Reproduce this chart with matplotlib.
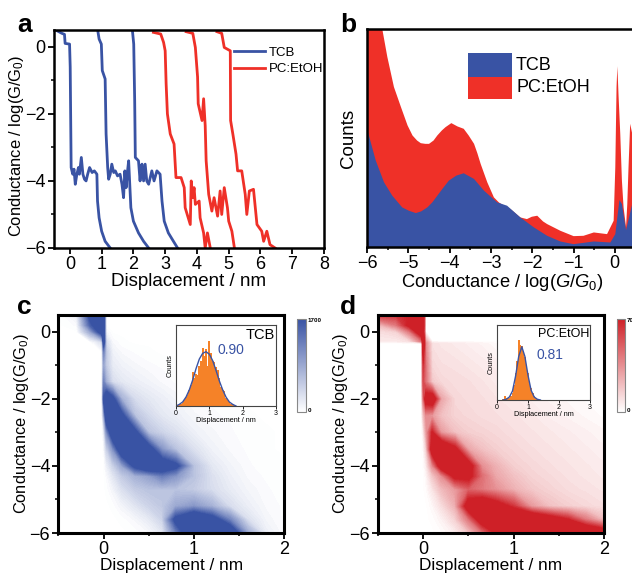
import numpy as np
import matplotlib
matplotlib.use("Agg")
import matplotlib.pyplot as plt
from matplotlib.colors import LinearSegmentedColormap, Normalize
from matplotlib.cm import ScalarMappable
from matplotlib.patches import Rectangle

plt.rcParams["font.family"] = "Liberation Sans"
plt.rcParams["mathtext.fontset"] = "custom"
plt.rcParams["mathtext.rm"] = "Liberation Sans"
plt.rcParams["mathtext.it"] = "Liberation Sans:italic"

BLUE = "#3953A4"
RED = "#EF3028"
DARK_RED = "#CE2027"
ORANGE = "#F58228"

# panel a, single traces
t1_x = [-0.39, -0.25, -0.17, -0.15, -0.01, 0.01, 0.03, 0.04, 0.09, 0.13, 0.17, 0.22, 0.27, 0.30, 0.36, 0.41, 0.46, 0.51, 0.56, 0.62, 0.70, 0.77, 0.85, 0.87, 0.92, 1.00, 1.11, 1.27]
t1_y = [0.47, 0.40, 0.37, 0.10, 0.08, -0.6, -2.6, -3.6, -3.8, -3.65, -4.1, -3.8, -3.6, -3.8, -3.3, -3.8, -3.95, -4.0, -3.8, -3.6, -3.75, -3.7, -3.8, -4.6, -5.1, -5.5, -5.8, -6.0]
t2_x = [0.88, 0.92, 0.99, 1.02, 1.11, 1.14, 1.19, 1.22, 1.27, 1.32, 1.38, 1.43, 1.50, 1.58, 1.64, 1.69, 1.73, 1.77, 1.81, 1.85, 1.88, 1.92, 2.00, 2.16, 2.32, 2.48]
t2_y = [0.47, 0.23, 0.08, -0.71, -0.96, -2.6, -3.6, -3.95, -3.8, -3.5, -3.75, -3.7, -3.85, -3.8, -4.1, -4.5, -3.7, -4.2, -3.75, -3.4, -4.0, -4.8, -5.2, -5.55, -5.8, -6.0]
t3_x = [1.97, 2.01, 2.04, 2.06, 2.16, 2.21, 2.24, 2.27, 2.32, 2.37, 2.42, 2.48, 2.58, 2.65, 2.74, 2.84, 2.90, 2.97, 3.10, 3.26, 3.39]
t3_y = [0.47, 0.08, -1.6, -3.3, -3.4, -4.0, -3.6, -3.5, -4.0, -3.5, -4.0, -4.1, -3.7, -4.0, -3.7, -3.8, -4.6, -5.2, -5.55, -5.8, -6.0]
t4_x = [2.63, 2.86, 2.95, 3.00, 3.03, 3.07, 3.16, 3.28, 3.34, 3.50, 3.60, 3.63, 3.79, 3.82, 3.87, 3.91, 3.95, 4.07, 4.10, 4.21, 4.26, 4.33, 4.42]
t4_y = [0.43, 0.38, 0.13, -0.12, -1.1, -2.0, -2.6, -2.9, -3.9, -3.9, -4.2, -4.8, -5.3, -4.0, -4.5, -4.2, -4.7, -4.6, -5.1, -5.55, -6.0, -5.55, -6.0]
t5_x = [3.66, 3.87, 3.95, 4.02, 4.04, 4.16, 4.21, 4.26, 4.29, 4.37, 4.47, 4.54, 4.65, 4.73, 4.78, 4.86, 4.96, 5.00, 5.10, 5.18]
t5_y = [0.45, 0.40, -0.02, -0.9, -1.7, -2.2, -1.55, -2.35, -3.4, -4.4, -4.9, -4.5, -5.05, -4.3, -5.0, -4.2, -4.8, -5.2, -5.5, -6.0]
t6_x = [4.63, 4.78, 4.86, 5.05, 5.06, 5.13, 5.23, 5.28, 5.41, 5.52, 5.57, 5.65, 5.78, 5.89, 6.04, 6.10, 6.20, 6.30, 6.46]
t6_y = [0.45, 0.40, -0.02, -0.12, -2.2, -2.6, -3.2, -3.7, -3.7, -4.4, -5.0, -4.3, -4.25, -5.3, -5.5, -5.8, -5.5, -5.9, -6.0]

# panel b, histograms
pc_g = [-6, -5.84, -5.64, -5.52, -5.36, -5.19, -5.03, -4.91, -4.80, -4.71, -4.60, -4.51, -4.40, -4.31, -4.20, -4.11, -3.97, -3.82, -3.67, -3.55, -3.42, -3.34, -3.26, -3.10, -2.94, -2.82, -2.70, -2.54, -2.30, -2.14, -2.02, -1.89, -1.75, -1.65, -1.33, -1.01, -0.77, -0.52, -0.20, -0.04, 0.0, 0.03, 0.05, 0.08, 0.12, 0.16, 0.20, 0.26, 0.29, 0.32, 0.36, 0.41, 0.60]
pc_counts = [800, 720, 652, 570, 480, 420, 365, 335, 320, 312, 310, 310, 320, 335, 350, 360, 372, 362, 355, 335, 310, 282, 250, 195, 150, 135, 125, 115, 90, 85, 92, 95, 78, 70, 50, 34, 35, 45, 40, 80, 240, 480, 542, 450, 340, 200, 120, 60, 130, 240, 370, 340, 300]
tcb_g = [-6, -5.80, -5.60, -5.40, -5.16, -5.00, -4.83, -4.70, -4.55, -4.43, -4.31, -4.17, -4.03, -3.85, -3.67, -3.42, -3.18, -2.86, -2.62, -2.30, -1.97, -1.65, -1.33, -1.01, -0.52, -0.12, 0.0, 0.10, 0.16, 0.26, 0.41, 0.60]
tcb_counts = [350, 260, 195, 155, 120, 110, 103, 108, 120, 135, 155, 178, 200, 215, 222, 205, 170, 135, 125, 90, 60, 35, 18, 10, 18, 15, 40, 142, 130, 52, 130, 120]

# panels c and d, 2D histograms, percent of colour bar maximum
map_x = [-0.5, -0.3, -0.15, -0.02, 0.0, 0.03, 0.1, 0.2, 0.35, 0.5, 0.65, 0.8, 1.0, 1.2, 1.4, 1.6, 1.8, 2.0]
tcb_y = [0.5, 0.2, 0, -0.3, -0.6, -1, -1.5, -2, -2.5, -3, -3.5, -4, -4.3, -4.7, -5.2, -5.6, -6]
tcb_map = [
    [0, 10, 110, 130, 130, 0, 0, 0, 0, 0, 0, 0, 0, 0, 0, 0, 0, 0],
    [0, 3, 90, 130, 130, 0, 0, 0, 0, 0, 0, 0, 0, 0, 0, 0, 0, 0],
    [0, 0, 50, 120, 120, 5, 0, 0, 0, 0, 0, 0, 0, 0, 0, 0, 0, 0],
    [0, 0, 0, 20, 120, 20, 4, 1, 0, 0, 0, 0, 0, 0, 0, 0, 0, 0],
    [0, 0, 0, 0, 70, 30, 8, 4, 2, 1, 0, 0, 0, 0, 0, 0, 0, 0],
    [0, 0, 0, 0, 50, 30, 12, 8, 5, 3, 2, 1, 0, 0, 0, 0, 0, 0],
    [0, 0, 0, 0, 70, 45, 20, 14, 10, 7, 4, 2, 1, 0, 0, 0, 0, 0],
    [0, 0, 0, 0, 100, 140, 110, 45, 20, 14, 10, 6, 3, 2, 1, 0, 0, 0],
    [0, 0, 0, 0, 40, 130, 150, 110, 35, 22, 14, 10, 5, 3, 2, 1, 0, 0],
    [0, 0, 0, 0, 8, 60, 130, 150, 110, 35, 25, 18, 9, 5, 3, 1, 1, 0],
    [0, 0, 0, 0, 2, 25, 60, 130, 150, 120, 60, 35, 18, 8, 4, 2, 1, 0],
    [0, 0, 0, 0, 0, 8, 25, 50, 110, 140, 130, 110, 35, 14, 7, 3, 1, 1],
    [0, 0, 0, 0, 0, 3, 14, 30, 45, 55, 75, 60, 35, 18, 9, 4, 2, 1],
    [0, 0, 0, 0, 0, 1, 6, 18, 30, 35, 35, 35, 30, 20, 12, 6, 3, 1],
    [0, 0, 0, 0, 0, 0, 1, 6, 15, 25, 32, 50, 60, 45, 20, 10, 4, 2],
    [0, 0, 0, 0, 0, 0, 0, 1, 5, 12, 25, 110, 150, 120, 70, 18, 6, 2],
    [0, 0, 0, 0, 0, 0, 0, 0, 1, 4, 14, 70, 140, 150, 140, 50, 10, 3],
]
pc_y = [0.5, 0.2, 0, -0.28, -0.35, -1, -1.5, -2, -2.5, -3, -3.5, -4, -4.3, -4.7, -5.2, -5.6, -6]
pc_map = [
    [90, 90, 100, 130, 130, 0, 0, 0, 0, 0, 0, 0, 0, 0, 0, 0, 0, 0],
    [30, 60, 110, 130, 130, 0, 0, 0, 0, 0, 0, 0, 0, 0, 0, 0, 0, 0],
    [15, 20, 60, 130, 120, 0, 0, 0, 0, 0, 0, 0, 0, 0, 0, 0, 0, 0],
    [10, 10, 15, 60, 130, 40, 0, 0, 0, 0, 0, 0, 0, 0, 0, 0, 0, 0],
    [0, 0, 0, 0, 130, 50, 14, 12, 10, 8, 6, 3, 2, 1, 0, 0, 0, 0],
    [0, 0, 0, 0, 90, 60, 18, 15, 14, 12, 10, 8, 5, 3, 1, 0, 0, 0],
    [0, 0, 0, 0, 80, 60, 25, 18, 16, 15, 13, 10, 8, 6, 4, 2, 1, 0],
    [0, 0, 0, 0, 60, 120, 130, 40, 18, 16, 15, 13, 11, 8, 6, 4, 2, 1],
    [0, 0, 0, 0, 25, 50, 45, 28, 20, 18, 16, 15, 13, 11, 8, 6, 4, 2],
    [0, 0, 0, 0, 8, 40, 100, 45, 28, 22, 20, 18, 15, 13, 11, 9, 7, 5],
    [0, 0, 0, 0, 3, 20, 120, 150, 110, 40, 28, 22, 18, 15, 13, 11, 9, 7],
    [0, 0, 0, 0, 1, 8, 50, 120, 150, 120, 50, 35, 22, 18, 15, 13, 11, 9],
    [0, 0, 0, 0, 0, 4, 25, 50, 110, 110, 65, 40, 28, 20, 17, 14, 12, 10],
    [0, 0, 0, 0, 0, 2, 12, 30, 45, 70, 60, 50, 35, 25, 20, 16, 14, 12],
    [0, 0, 0, 0, 0, 0, 4, 15, 35, 120, 140, 120, 90, 45, 28, 22, 18, 15],
    [0, 0, 0, 0, 0, 0, 1, 6, 20, 60, 120, 150, 150, 150, 125, 100, 60, 30],
    [0, 0, 0, 0, 0, 0, 0, 2, 8, 25, 60, 100, 150, 150, 150, 150, 150, 130],
]

# insets, displacement histograms and fits
tcb_bin = [0.10, 0.15, 0.20, 0.25, 0.30, 0.35, 0.40, 0.45, 0.50, 0.55, 0.60, 0.65, 0.70, 0.75, 0.80, 0.85, 0.90, 0.95, 1.00, 1.05, 1.10, 1.15, 1.20, 1.25, 1.30, 1.35, 1.40, 1.45, 1.50, 1.55, 1.60, 1.65, 1.70]
tcb_hist = [0.01, 0.02, 0.04, 0.08, 0.11, 0.14, 0.20, 0.26, 0.42, 0.34, 0.40, 0.38, 0.50, 0.56, 0.72, 0.62, 0.70, 0.50, 0.80, 0.66, 0.56, 0.54, 0.48, 0.44, 0.34, 0.24, 0.20, 0.18, 0.10, 0.08, 0.05, 0.03, 0.02]
tcb_fit_x = [0.0, 0.1, 0.2, 0.3, 0.4, 0.5, 0.6, 0.7, 0.8, 0.9, 1.0, 1.1, 1.2, 1.3, 1.4, 1.5, 1.6, 1.7, 1.8]
tcb_fit = [0.00, 0.02, 0.05, 0.11, 0.20, 0.32, 0.46, 0.58, 0.65, 0.67, 0.64, 0.56, 0.44, 0.31, 0.20, 0.11, 0.05, 0.02, 0.00]
pc_bin = [0.20, 0.25, 0.30, 0.35, 0.40, 0.45, 0.50, 0.55, 0.60, 0.65, 0.70, 0.75, 0.80, 0.85, 0.90, 0.95, 1.00, 1.05, 1.10, 1.15, 1.20, 1.25, 1.30]
pc_hist = [0.01, 0.05, 0.03, 0.02, 0.03, 0.06, 0.10, 0.20, 0.36, 0.52, 0.80, 0.74, 0.72, 0.66, 0.58, 0.44, 0.36, 0.22, 0.16, 0.10, 0.06, 0.03, 0.01]
pc_fit_x = [0.2, 0.3, 0.4, 0.5, 0.6, 0.7, 0.8, 0.9, 1.0, 1.1, 1.2, 1.3, 1.4]
pc_fit = [0.00, 0.01, 0.04, 0.12, 0.32, 0.58, 0.71, 0.58, 0.33, 0.13, 0.04, 0.01, 0.00]

W, H = 632, 575
fig = plt.figure(figsize=(W / 100, H / 100), dpi=100)
fig.patch.set_facecolor("white")


def add_axes(left, top, right, bottom):
    return fig.add_axes([left / W, 1 - bottom / H, (right - left) / W, (bottom - top) / H])


def style(ax, lw=1.8, size=13):
    for s in ax.spines.values():
        s.set_linewidth(lw)
    ax.tick_params(which="major", direction="out", length=4, width=1.3, labelsize=size, pad=2)
    ax.tick_params(which="minor", direction="out", length=2.2, width=1.1)


# a
ax = add_axes(54, 30, 324, 248)
for tx, ty in [(t1_x, t1_y), (t2_x, t2_y), (t3_x, t3_y)]:
    ax.plot(tx, ty, color=BLUE, lw=2.0, solid_joinstyle="round")
for tx, ty in [(t4_x, t4_y), (t5_x, t5_y), (t6_x, t6_y)]:
    ax.plot(tx, ty, color=RED, lw=2.0, solid_joinstyle="round")
ax.set_xlim(-0.5, 8)
ax.set_ylim(-6, 0.5)
ax.set_xticks(range(0, 9))
ax.set_yticks([-6, -4, -2, 0])
ax.set_yticks([-5, -3, -1], minor=True)
style(ax)
ax.set_xlabel("Displacement / nm", fontsize=13.5, labelpad=0)
ax.set_ylabel(r"Conductance / log($\mathrm{G/G_0}$)", fontsize=11.9, labelpad=-1, y=0.47)
ax.plot([], [], color=BLUE, lw=2.0, label="TCB")
ax.plot([], [], color=RED, lw=2.0, label="PC:EtOH")
ax.legend(loc="upper left", bbox_to_anchor=(0.667, 0.925), frameon=False, fontsize=9.5,
          handlelength=2.35, handletextpad=0.25, labelspacing=0.35, borderpad=0, borderaxespad=0)
fig.text(17 / W, 1 - 32 / H, "a", fontsize=19, fontweight="bold", va="baseline")

# b
ax = add_axes(367, 29, 640, 247)
ax.fill_between(pc_g, pc_counts, color=RED, lw=0)
ax.fill_between(tcb_g, tcb_counts, color=BLUE, lw=0)
ax.set_xlim(-6, 0.61)
ax.set_ylim(0, 652)
ax.set_xticks(range(-6, 1))
ax.set_xticks([-5.5, -4.5, -3.5, -2.5, -1.5, -0.5, 0.5], minor=True)
ax.set_yticks([])
style(ax)
ax.set_xlabel(r"Conductance / log($G/G_0$)", fontsize=13.2, labelpad=0, x=0.497)
ax.set_ylabel("Counts", fontsize=13.5, labelpad=7, y=0.5)
for top, bottom, col, name in [(53, 77, BLUE, "TCB"), (77, 99, RED, "PC:EtOH")]:
    fig.add_artist(Rectangle((468 / W, 1 - bottom / H), 44 / W, (bottom - top) / H,
                             transform=fig.transFigure, color=col, lw=0))
    fig.text(516 / W, 1 - (top + bottom) / 2 / H, name, fontsize=13, va="center")
fig.text(340 / W, 1 - 32 / H, "b", fontsize=19, fontweight="bold", va="baseline")


def density(left, right, my, mz, col, letter, lx):
    cmap = LinearSegmentedColormap.from_list("m", ["white", col])
    cmap.set_over(col)
    cmap.set_under("white")
    ax = add_axes(left, 315, right, 533)
    ax.contourf(map_x, my, mz, levels=np.linspace(0.5, 100, 50), cmap=cmap, extend="both")
    ax.set_xlim(-0.5, 2)
    ax.set_ylim(-6, 0.5)
    ax.set_xticks([0, 1, 2])
    ax.set_xticks([-0.5, 0.5, 1.5], minor=True)
    ax.set_yticks([-6, -4, -2, 0])
    ax.set_yticks([-5, -3, -1], minor=True)
    style(ax, lw=2.2)
    ax.set_xlabel("Displacement / nm", fontsize=12.4, labelpad=0)
    ax.set_ylabel(r"Conductance / log($\mathrm{G/G_0}$)", fontsize=11.8, labelpad=-1)
    fig.text(lx / W, 1 - 314 / H, letter, fontsize=19, fontweight="bold", va="baseline")
    return cmap


def inset(left, top, right, bottom, bx, bh, fx, fy, name, val, name_size, val_y):
    ins = add_axes(left, top, right, bottom)
    ins.bar(bx, bh, width=0.06, color=ORANGE, lw=0)
    ins.plot(fx, fy, color=BLUE, lw=1.0)
    ins.set_xlim(0, 3)
    ins.set_ylim(0, 1)
    ins.set_xticks([0, 1, 2, 3])
    ins.set_yticks([])
    for s in ins.spines.values():
        s.set_linewidth(0.8)
        s.set_color("#444444")
    ins.tick_params(length=2, width=0.6, labelsize=5, pad=1)
    ins.set_xlabel("Displacement / nm", fontsize=5.2, labelpad=0)
    ins.set_ylabel("Counts", fontsize=5.2, labelpad=1.5)
    ins.text(0.99, 0.875, name, transform=ins.transAxes, ha="right", va="center", fontsize=name_size)
    ins.text(1.26, val_y, val, color=BLUE, fontsize=10, va="center", ha="left")


def colorbar(left, right, cmap, top_label):
    cax = add_axes(left, 319, right, 412)
    cb = fig.colorbar(ScalarMappable(norm=Normalize(0, 100), cmap=cmap), cax=cax)
    cb.set_ticks([])
    cb.outline.set_linewidth(0.8)
    cb.outline.set_edgecolor("#888888")
    fig.text((right + 2) / W, 1 - 320 / H, top_label, fontsize=4.5, fontweight="bold", va="center")
    fig.text((right + 2) / W, 1 - 410 / H, "0", fontsize=4.5, fontweight="bold", va="center")


# c
c_cmap = density(58.5, 284, tcb_y, tcb_map, BLUE, "c", 17)
inset(176, 325, 276, 406, tcb_bin, tcb_hist, tcb_fit_x, tcb_fit, "TCB", "0.90", 10.5, 0.69)
colorbar(297, 306, c_cmap, "1700")

# d
d_cmap = density(378, 604, pc_y, pc_map, DARK_RED, "d", 340)
inset(497, 325, 590, 400, pc_bin, pc_hist, pc_fit_x, pc_fit, "PC:EtOH", "0.81", 9, 0.6)
colorbar(617, 625, d_cmap, "700")

fig.savefig("out.png", dpi=100, facecolor="white")
plt.close(fig)
